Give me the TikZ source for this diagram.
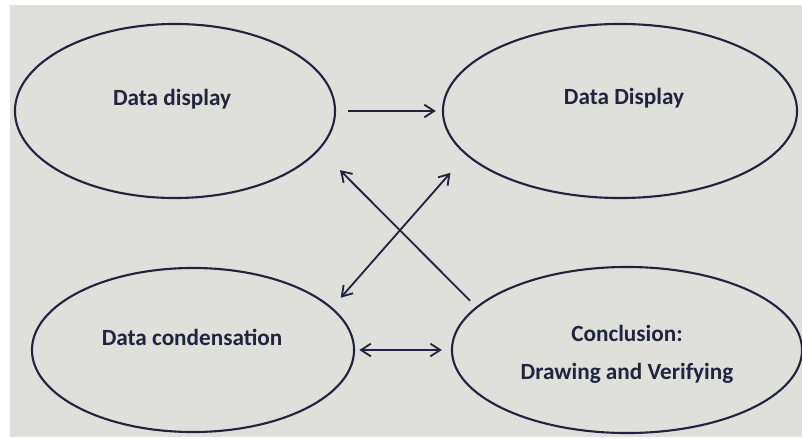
\documentclass[tikz,border=0pt]{standalone}
\usepackage{fontspec}
\setmainfont{Carlito}
\usepackage{tikz}
\usetikzlibrary{shapes.geometric, arrows.meta}
\definecolor{paper}{RGB}{223,223,219}
\definecolor{ink}{RGB}{32,36,62}
\tikzset{
	bubble/.style={draw=ink, ellipse, line width=1.5pt, inner sep=0pt, text=ink,
		font=\fontsize{16.5}{24}\selectfont\bfseries, align=center},
	label text/.style={text=ink, font=\fontsize{16.5}{20}\selectfont\bfseries},
	link/.style={draw=ink, line width=1.3pt, -{Straight Barb[length=7pt,width=9pt]}},
	twolink/.style={link, {Straight Barb[length=7pt,width=9pt]}-{Straight Barb[length=7pt,width=9pt]}}
}

\begin{document}
\begin{tikzpicture}[x=0.025cm, y=-0.025cm]
\useasboundingbox (0,0) rectangle (802,439);
\fill[white] (0,0) rectangle (802,439);
\fill[paper] (10,5) rectangle (802,437);

\node[bubble, minimum width=8cm, minimum height=4.35cm] (dispA) at (175,111) {};
\node[label text] (dispAtxt) at (172,99) {Data display};

\node[bubble, minimum width=8.85cm, minimum height=4.35cm] (dispB) at (620,111) {};
\node[label text] (dispBtxt) at (624,98) {Data Display};

\node[bubble, minimum width=8.05cm, minimum height=4.1cm] (cond) at (193,350) {};
\node[label text] (condtxt) at (192,337) {Data condensation};

\node[bubble, minimum width=8.75cm, minimum height=4.15cm] (concl) at (627,350) {};
\node[label text] (concltxt1) at (627,333) {Conclusion:};
\node[label text] (concltxt2) at (627,373) {Drawing and Verifying};

% arrows
\draw[link, shorten <=8.5pt, shorten >=4.3pt] (dispA.east) -- (dispB.west);
\draw[twolink, shorten <=3pt, shorten >=6.4pt] (cond.east) -- (concl.west);
\draw[link, shorten <=6pt, shorten >=20.5pt] (concl.164.5) -- (dispA.-15.6);
\draw[twolink, shorten <=9.2pt, shorten >=16.7pt] (cond.17) -- (dispB.196.3);
\end{tikzpicture}
\end{document}
